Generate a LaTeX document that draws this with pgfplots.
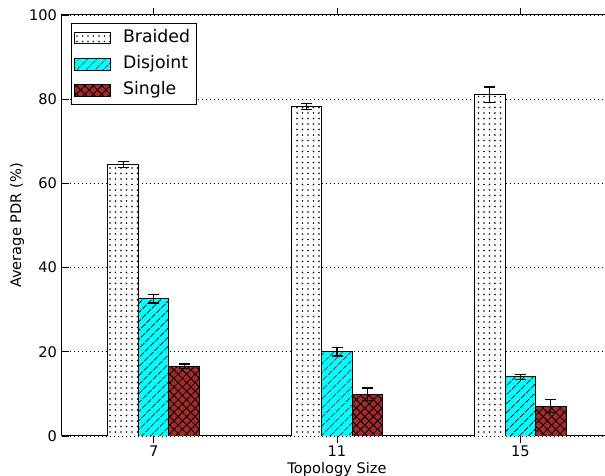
\documentclass[border=0pt]{standalone}
\usepackage{pgfplots}
\pgfplotsset{compat=1.18}
\usepackage{fontspec}
\setmainfont{DejaVu Sans}
\usetikzlibrary{patterns,patterns.meta}
\definecolor{mpbrown}{HTML}{A52A2A}
\definecolor{mpcyan}{HTML}{00FFFF}
\begin{document}
\fontsize{14.6pt}{17.5pt}\selectfont
\begin{tikzpicture}
\begin{axis}[
  scale only axis,
  width=550pt, height=421pt,
  at={(0,0)}, anchor=south west,
  xmin=-0.5, xmax=2.5,
  ymin=0, ymax=100,
  xtick={0,1,2}, xticklabels={7,11,15},
  ytick={0,20,40,60,80,100},
  /pgf/number format/assume math mode=true,
  tick label style={font=\fontsize{14.6pt}{17.5pt}\selectfont},
  xticklabel style={yshift=2pt},
  label style={font=\fontsize{14.6pt}{17.5pt}\selectfont},
  tick align=inside,
  major tick length=7pt,
  tick style={black, line width=0.9pt},
  axis line style={black, line width=1pt},
  ymajorgrids,
  major grid style={black, line width=0.9pt, dash pattern=on 1pt off 3pt},
  xlabel={Topology Size},
  ylabel={Average PDR (\%)},
  every axis x label/.style={at={(axis description cs:0.5,0)}, yshift=-33pt, anchor=center},
  every axis y label/.style={at={(axis description cs:-0.0818,0.5)}, rotate=90, anchor=center},
  ybar=0pt,
  bar width=0.1667,
  legend cell align=left,
  legend style={at={(axis description cs:0.0158,0.98)}, anchor=north west,
    draw=black, line width=1pt, inner xsep=3pt, inner ysep=5pt,
    row sep=8pt,
    /tikz/every odd column/.append style={column sep=9pt},
    nodes={inner xsep=3pt, inner ysep=1pt, text height=12.6pt, text depth=3.6pt},
    font=\fontsize{17.3pt}{20pt}\selectfont},
  legend image code/.code={\draw[#1, line width=0.9pt] (0pt,-5.8pt) rectangle (36pt,5.8pt);},
  error bars/y dir=both,
  error bars/y explicit,
  error bars/error bar style={black, line width=1.2pt},
  error bars/error mark options={rotate=90, mark size=5.5pt, line width=1.2pt, black},
]
\addplot+[draw=black, line width=0.9pt, fill=white,
  postaction={pattern={Dots[distance=5.5pt, radius=0.9pt]}, pattern color=black}]
  coordinates {(0,64.5) +- (0,0.65) (1,78.3) +- (0,0.7) (2,81.1) +- (0,1.8)};
\addplot+[draw=black, line width=0.9pt, fill=mpcyan,
  postaction={pattern={Lines[angle=45, distance=6.5pt, line width=0.8pt]}, pattern color=black}]
  coordinates {(0,32.6) +- (0,1.0) (1,20.0) +- (0,1.0) (2,14.1) +- (0,0.6)};
\addplot+[draw=black, line width=0.9pt, fill=mpbrown,
  postaction={pattern={Hatch[angle=45, distance=6pt, line width=0.8pt]}, pattern color=black}]
  coordinates {(0,16.6) +- (0,0.5) (1,9.9) +- (0,1.5) (2,7.1) +- (0,1.5)};
\legend{Braided, Disjoint, Single}
\end{axis}
\pgfresetboundingbox
\path (-62pt,-40pt) rectangle (543pt,436pt);
\end{tikzpicture}
\end{document}
